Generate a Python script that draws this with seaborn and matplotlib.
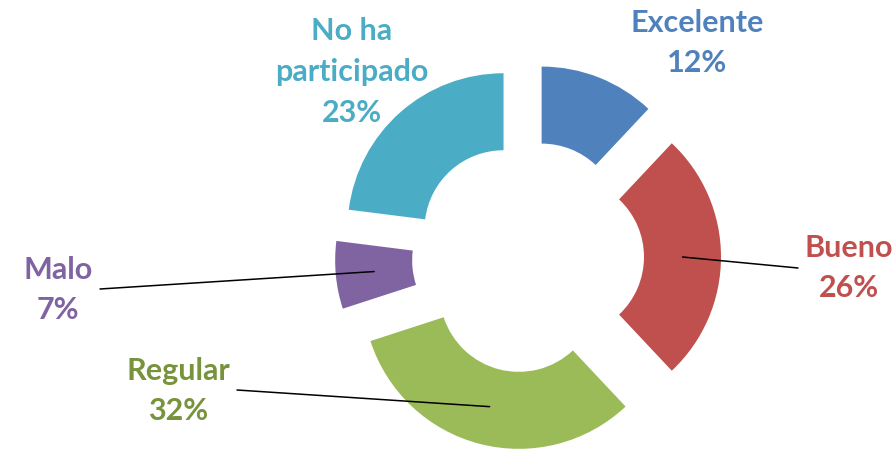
import math
import matplotlib
matplotlib.use("Agg")
import matplotlib.pyplot as plt
import seaborn as sns

# Survey results (percent)
categories = ["Excelente", "Bueno", "Regular", "Malo", "No ha\nparticipado"]
values = [12, 26, 32, 7, 23]
slice_colors = ["#4F81BD", "#C0504D", "#9BBB59", "#8064A2", "#4BACC6"]
label_colors = ["#4F81BD", "#C0504D", "#77933C", "#8064A2", "#4BACC6"]

sns.set_theme(style="white")
plt.rcParams["font.family"] = ["Lato", "DejaVu Sans"]

W, H = 896, 450
fig = plt.figure(figsize=(W / 100, H / 100), dpi=100)
ax = fig.add_axes([0, 0, 1, 1])

center = (528, 257)
radius = 156
ring = 77
explode_px = 37

# y axis is inverted below, so counter-clockwise in data space is clockwise on screen
wedges, _ = ax.pie(
    values,
    colors=slice_colors,
    startangle=-90,
    counterclock=True,
    center=center,
    radius=radius,
    explode=[explode_px] * len(values),
    wedgeprops=dict(width=ring, linewidth=0),
)
ax.set_xlim(0, W)
ax.set_ylim(H, 0)
ax.set_aspect("equal")
ax.axis("off")

# label anchor (screen pixels) for each category, and leader line end if any
label_pos = {
    "Excelente": (697, 43, None),
    "Bueno": (849, 268, (798, 268)),
    "Regular": (178, 391, (237, 390)),
    "Malo": (58, 290, (100, 289)),
    "No ha\nparticipado": (352, 72, None),
}

fs = 22
for w, cat, val, col in zip(wedges, categories, values, label_colors):
    lx, ly, lead = label_pos[cat]
    ax.text(lx, ly, f"{cat}\n{val}%", ha="center", va="center", color=col,
            fontsize=fs, fontweight="bold", linespacing=1.55)
    if lead is not None:
        th = math.radians((w.theta1 + w.theta2) / 2)
        cx, cy = w.center
        rm = w.r - ring / 2
        sx, sy = cx + rm * math.cos(th), cy + rm * math.sin(th)
        ex, ey = lead
        ax.plot([sx, ex], [sy, ey], color="black", lw=1.1, solid_capstyle="round")

fig.savefig("out.png", dpi=100)
